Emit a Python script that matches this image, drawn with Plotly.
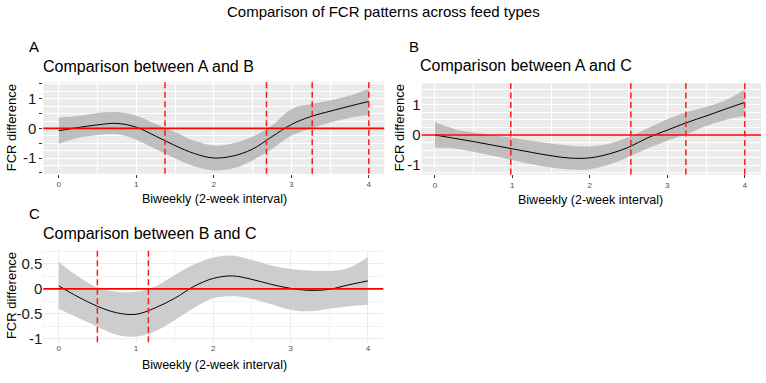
import plotly.graph_objects as go

W, H = 766, 383
FONT = "Liberation Sans, Arial, sans-serif"

# ---------------- data ----------------
x_grid = [0, 0.25, 0.5, 0.75, 1.0, 1.25, 1.5, 1.75, 2.0, 2.25, 2.5, 2.75, 3.0, 3.25, 3.5, 3.75, 4.0]

ab_fit = [-0.08, 0.03, 0.12, 0.17, 0.04, -0.26, -0.58, -0.85, -1.0, -0.93, -0.70, -0.28, 0.13, 0.40, 0.58, 0.75, 0.91]
ab_upper = [0.37, 0.42, 0.52, 0.55, 0.43, 0.15, -0.12, -0.42, -0.58, -0.50, -0.28, 0.10, 0.65, 0.82, 0.94, 1.10, 1.34]
ab_lower = [-0.52, -0.32, -0.22, -0.20, -0.38, -0.70, -1.02, -1.28, -1.42, -1.35, -1.08, -0.70, -0.24, -0.01, 0.20, 0.35, 0.45]
ab_vlines = [1.37, 2.68, 3.27, 4.0]

ac_fit = [0.0, -0.11, -0.22, -0.34, -0.46, -0.58, -0.69, -0.77, -0.76, -0.63, -0.41, -0.09, 0.16, 0.41, 0.63, 0.86, 1.08]
ac_upper = [0.43, 0.20, 0.08, 0.0, -0.09, -0.19, -0.28, -0.36, -0.38, -0.29, -0.08, 0.22, 0.52, 0.76, 0.93, 1.15, 1.51]
ac_lower = [-0.42, -0.45, -0.56, -0.69, -0.83, -0.97, -1.08, -1.15, -1.14, -0.98, -0.73, -0.44, -0.19, 0.03, 0.30, 0.50, 0.64]
ac_vlines = [0.98, 2.53, 3.24, 4.0]

bc_fit = [0.06, -0.16, -0.35, -0.48, -0.51, -0.38, -0.19, 0.05, 0.21, 0.26, 0.19, 0.09, 0.01, -0.03, -0.01, 0.08, 0.16]
bc_upper = [0.54, 0.25, 0.03, -0.06, -0.06, 0.05, 0.28, 0.49, 0.63, 0.67, 0.58, 0.47, 0.40, 0.37, 0.36, 0.42, 0.64]
bc_lower = [-0.40, -0.58, -0.76, -0.92, -0.96, -0.85, -0.63, -0.38, -0.19, -0.15, -0.20, -0.31, -0.42, -0.45, -0.40, -0.35, -0.32]
bc_vlines = [0.5, 1.16]

x_ticks = [0, 1, 2, 3, 4]
y_ticks_ab = [-1.5, -1, -0.5, 0, 0.5, 1, 1.5]
y_text_ab = ["", "-1", "", "0", "", "1", ""]
y_ticks_bc = [-1, -0.5, 0, 0.5]
y_text_bc = ["-1", "-0.5", "0", "0.5"]

# ---------------- figure ----------------
def px(x):
    return x / W

def py(y):
    return 1 - y / H

fig = go.Figure()

panels = [
    dict(xa="x", ya="y", fit=ab_fit, up=ab_upper, lo=ab_lower, vl=ab_vlines,
         fill="rgba(188,188,188,0.95)"),
    dict(xa="x2", ya="y2", fit=ac_fit, up=ac_upper, lo=ac_lower, vl=ac_vlines,
         fill="rgba(188,188,188,0.95)"),
    dict(xa="x3", ya="y3", fit=bc_fit, up=bc_upper, lo=bc_lower, vl=bc_vlines,
         fill="rgba(202,202,202,0.95)"),
]

shapes = []
for p in panels:
    fig.add_trace(go.Scatter(x=x_grid, y=p["lo"], xaxis=p["xa"], yaxis=p["ya"],
                             mode="lines", line=dict(width=0, shape="spline"),
                             showlegend=False, hoverinfo="skip"))
    fig.add_trace(go.Scatter(x=x_grid, y=p["up"], xaxis=p["xa"], yaxis=p["ya"],
                             mode="lines", line=dict(width=0, shape="spline"),
                             fill="tonexty", fillcolor=p["fill"],
                             showlegend=False, hoverinfo="skip"))
    fig.add_trace(go.Scatter(x=x_grid, y=p["fit"], xaxis=p["xa"], yaxis=p["ya"],
                             mode="lines", line=dict(width=1, color="black", shape="spline"),
                             showlegend=False, hoverinfo="skip"))
    shapes.append(dict(type="line", xref=p["xa"] + " domain", yref=p["ya"],
                       x0=0, x1=1, y0=0, y1=0, layer="above",
                       line=dict(color="#FF0000", width=1.6)))
    for v in p["vl"]:
        shapes.append(dict(type="line", xref=p["xa"], yref=p["ya"] + " domain",
                           x0=v, x1=v, y0=0, y1=1, layer="above",
                           line=dict(color="#FF1A1A", width=1.5, dash="6px,3.5px")))

grey_x = dict(tickvals=x_ticks, ticktext=[str(t) for t in x_ticks],
              showgrid=True, gridcolor="white", gridwidth=1.1, zeroline=False,
              ticks="outside", ticklen=3, tickcolor="#333333", tickwidth=1,
              tickfont=dict(size=8, color="#4D4D4D", family=FONT),
              minor=dict(dtick=0.5, tick0=0, showgrid=True, gridcolor="white", gridwidth=0.5),
              showline=False)

fig.update_layout(
    width=W, height=H,
    margin=dict(l=0, r=0, t=0, b=0),
    paper_bgcolor="white",
    plot_bgcolor="#EBEBEB",
    font=dict(family=FONT, color="black"),
    shapes=shapes,
    xaxis=dict(domain=[px(43.3), px(384.3)], range=[-0.2, 4.2], anchor="y", **grey_x),
    yaxis=dict(domain=[py(176), py(83.3)], range=[-1.53, 1.56], anchor="x",
               tickvals=y_ticks_ab, ticktext=y_text_ab,
               showgrid=True, gridcolor="white", gridwidth=1.1, zeroline=False,
               ticks="outside", ticklen=3, tickcolor="#333333",
               tickfont=dict(size=15, color="#1A1A1A", family=FONT),
               minor=dict(dtick=0.25, tick0=0, showgrid=True, gridcolor="white", gridwidth=0.5)),
    xaxis2=dict(domain=[px(421.7), px(761)], range=[-0.17, 4.21], anchor="y2", **grey_x),
    yaxis2=dict(domain=[py(176.7), py(84.3)], range=[-1.31, 1.72], anchor="x2",
                tickvals=y_ticks_ab, ticktext=y_text_ab,
                showgrid=True, gridcolor="white", gridwidth=1.1, zeroline=False,
                ticks="",
                tickfont=dict(size=15, color="#1A1A1A", family=FONT),
                minor=dict(dtick=0.25, tick0=0, showgrid=True, gridcolor="white", gridwidth=0.5)),
    xaxis3=dict(domain=[px(43.3), px(383.3)], range=[-0.2, 4.2], anchor="y3",
                tickvals=x_ticks, ticktext=[str(t) for t in x_ticks],
                showgrid=True, gridcolor="#EBEBEB", gridwidth=1.1, zeroline=False,
                ticks="", tickfont=dict(size=8, color="#4D4D4D", family=FONT),
                minor=dict(dtick=0.5, tick0=0, showgrid=True, gridcolor="#F2F2F2", gridwidth=0.5)),
    yaxis3=dict(domain=[py(346.7), py(253.3)], range=[-1.07, 0.78], anchor="x3",
                tickvals=y_ticks_bc, ticktext=y_text_bc,
                showgrid=True, gridcolor="#EBEBEB", gridwidth=1.1, zeroline=False,
                ticks="",
                tickfont=dict(size=15, color="#1A1A1A", family=FONT),
                minor=dict(dtick=0.25, tick0=0, showgrid=True, gridcolor="#F2F2F2", gridwidth=0.5)),
)

# white background for panel C (theme_minimal)
fig.add_shape(type="rect", xref="x3 domain", yref="y3 domain", x0=0, x1=1, y0=0, y1=1,
              fillcolor="white", line=dict(width=0), layer="below")

ann = []
def text(t, x, y, size, xanchor="center", angle=0, color="black"):
    ann.append(dict(text=t, x=px(x), y=py(y), xref="paper", yref="paper",
                    xanchor=xanchor, yanchor="middle", showarrow=False, textangle=angle,
                    font=dict(size=size, color=color, family=FONT)))

text("Comparison of FCR patterns across feed types", 383, 12, 15)
text("A", 27, 47, 15, xanchor="left")
text("B", 407, 47, 15, xanchor="left")
text("C", 27, 216, 15, xanchor="left")
text("Comparison between A and B", 41, 67, 16, xanchor="left")
text("Comparison between A and C", 418, 66, 16, xanchor="left")
text("Comparison between B and C", 41, 237, 16, xanchor="left")
text("FCR difference", 11, 130, 13, angle=-90)
text("FCR difference", 399, 130, 13, angle=-90)
text("FCR difference", 11, 300, 13, angle=-90)
text("Biweekly (2-week interval)", 214, 202, 12.5)
text("Biweekly (2-week interval)", 590, 203, 12.5)
text("Biweekly (2-week interval)", 214, 370, 12.5)
fig.update_layout(annotations=ann)

fig.write_html("out.html")
